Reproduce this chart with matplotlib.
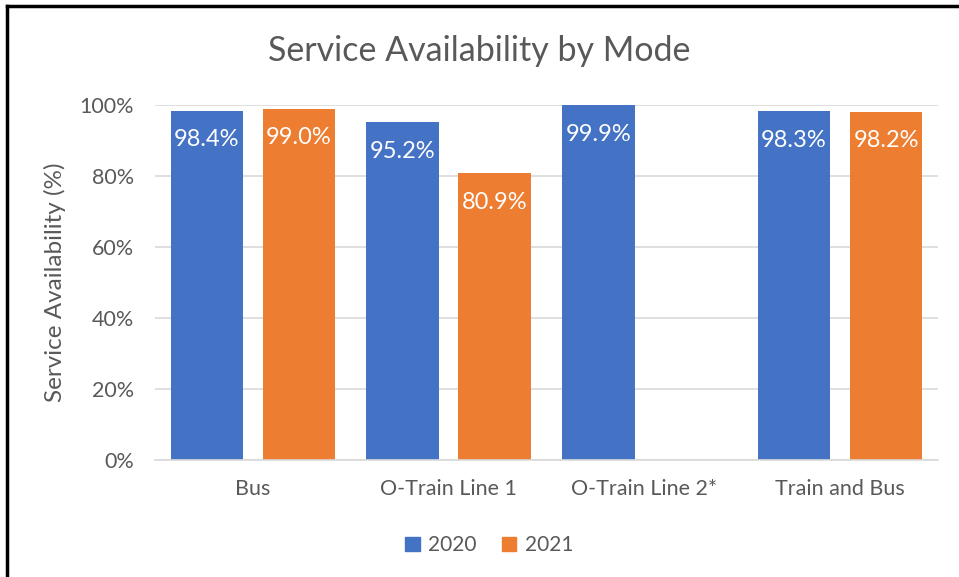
import numpy as np
import matplotlib.pyplot as plt
from matplotlib.lines import Line2D
from matplotlib.patches import Patch

# data
modes = ['Bus', 'O-Train Line 1', 'O-Train Line 2*', 'Train and Bus']
avail_2020 = [98.4, 95.2, 99.9, 98.3]
avail_2021 = [99.0, 80.9, np.nan, 98.2]
years = ['2020', '2021']

blue = '#4472C4'
orange = '#ED7D31'
grey = '#595959'

plt.rcParams['font.family'] = ['Lato', 'DejaVu Sans']

fig = plt.figure(figsize=(9.59, 5.77), dpi=100)
ax = fig.add_axes([0.1616, 0.2028, 0.8164, 0.615])

x = np.arange(len(modes))
w = 0.37
off = 0.235
b1 = ax.bar(x - off, avail_2020, w, color=blue, zorder=2)
b2 = ax.bar(x + off, avail_2021, w, color=orange, zorder=2)

# white labels just inside the bar tops
for bars, vals in [(b1, avail_2020), (b2, avail_2021)]:
    for rect, v in zip(bars, vals):
        if np.isnan(v):
            continue
        ax.annotate(f'{v:.1f}%', (rect.get_x() + rect.get_width() / 2, v),
                    xytext=(0, -21), textcoords='offset points',
                    ha='center', va='center', color='white', fontsize=17)

ax.set_xlim(-0.5, len(modes) - 0.5)
ax.set_ylim(0, 100)
ax.set_yticks(range(0, 101, 20))
ax.set_yticklabels([f'{t}%' for t in range(0, 101, 20)])
ax.set_xticks(x)
ax.set_xticklabels(modes)
ax.yaxis.grid(True, color='#D9D9D9', linewidth=1.2, zorder=0)
ax.set_axisbelow(True)
for s in ['top', 'right', 'left']:
    ax.spines[s].set_visible(False)
ax.spines['bottom'].set_color('#D9D9D9')
ax.spines['bottom'].set_linewidth(1.2)
ax.tick_params(axis='both', length=0, colors=grey, labelsize=15.5)
ax.tick_params(axis='x', pad=14)
ax.tick_params(axis='y', pad=15)

ax.set_ylabel('Service Availability (%)', color=grey, fontsize=17.5, labelpad=10)
fig.text(0.5, 0.912, 'Service Availability by Mode', ha='center', va='center',
         color=grey, fontsize=24.5)

handles = [Patch(color=blue, label=years[0]), Patch(color=orange, label=years[1])]
fig.legend(handles=handles, loc='center', bbox_to_anchor=(0.51, 0.055), ncol=2,
           frameon=False, fontsize=15, handlelength=0.7, handleheight=0.7,
           handletextpad=0.4, columnspacing=1.2, labelcolor=grey)

# partial black frame (top and left edges)
fig.add_artist(Line2D([0.0068, 1.0], [0.9896, 0.9896], color='black', linewidth=2.5))
fig.add_artist(Line2D([0.0068, 0.0068], [0.0, 0.9896], color='black', linewidth=2.5))

plt.savefig('out.png', dpi=100)
